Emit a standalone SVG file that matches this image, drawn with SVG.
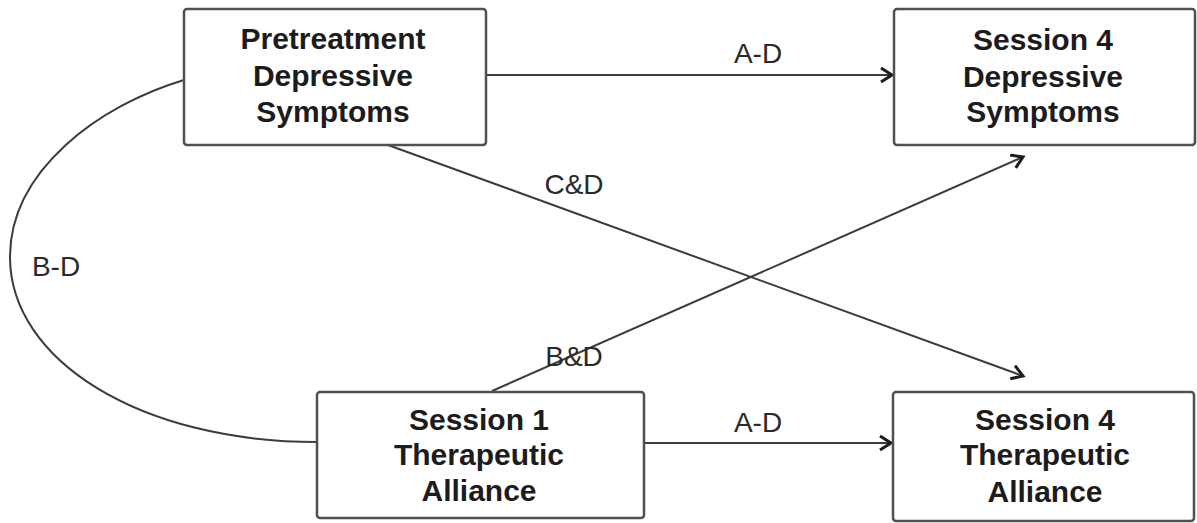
<svg xmlns="http://www.w3.org/2000/svg" width="1197" height="523" viewBox="0 0 1197 523">
<style>
.box{fill:#fff;stroke:#505050;stroke-width:2.5}
.nt{font-family:"Liberation Sans",Arial,sans-serif;font-weight:bold;font-size:30px;fill:#1c1c1c;text-anchor:middle}
.lb{font-family:"Liberation Sans",Arial,sans-serif;font-size:28px;fill:#2a2a2a;text-anchor:middle}
.ln{fill:none;stroke:#3c3c3c;stroke-width:2}
</style>
<defs>
<marker id="ah" markerUnits="userSpaceOnUse" markerWidth="20" markerHeight="20" refX="13" refY="8" orient="auto">
<path d="M2,1 L13,8 L2,15" fill="none" stroke="#1c1c1c" stroke-width="3" stroke-linejoin="miter"/>
</marker>
</defs>
<rect width="1197" height="523" fill="#fff"/>
<g id="connectors">
<path class="ln" d="M486,75 L892,75" marker-end="url(#ah)"/>
<path class="ln" d="M644,443 L891,443" marker-end="url(#ah)"/>
<path class="ln" d="M388,145 L1023,376" marker-end="url(#ah)"/>
<path class="ln" d="M492,391 L1023,157" marker-end="url(#ah)"/>
<path class="ln" d="M184,80 C100,105 10,170 10,257 C10,360 140,442 317,442"/>
<text class="lb" x="758" y="63">A-D</text>
<text class="lb" x="758" y="432">A-D</text>
<text class="lb" x="574" y="194">C&amp;D</text>
<text class="lb" x="574" y="366">B&amp;D</text>
<text class="lb" x="56" y="276">B-D</text>
</g>
<g id="pretreatment">
<rect class="box" x="184" y="9" width="302" height="136" rx="3"/>
<text class="nt" x="333" y="49">Pretreatment</text>
<text class="nt" x="333" y="86">Depressive</text>
<text class="nt" x="333" y="122">Symptoms</text>
</g>
<g id="s4dep">
<rect class="box" x="894" y="9" width="301" height="136" rx="3"/>
<text class="nt" x="1043" y="50">Session 4</text>
<text class="nt" x="1043" y="87">Depressive</text>
<text class="nt" x="1043" y="122">Symptoms</text>
</g>
<g id="s1ta">
<rect class="box" x="317" y="392" width="327" height="126" rx="3"/>
<text class="nt" x="479" y="430">Session 1</text>
<text class="nt" x="479" y="465">Therapeutic</text>
<text class="nt" x="479" y="501">Alliance</text>
</g>
<g id="s4ta">
<rect class="box" x="893" y="392" width="301" height="129" rx="3"/>
<text class="nt" x="1045" y="430">Session 4</text>
<text class="nt" x="1045" y="465">Therapeutic</text>
<text class="nt" x="1045" y="502">Alliance</text>
</g>
</svg>
